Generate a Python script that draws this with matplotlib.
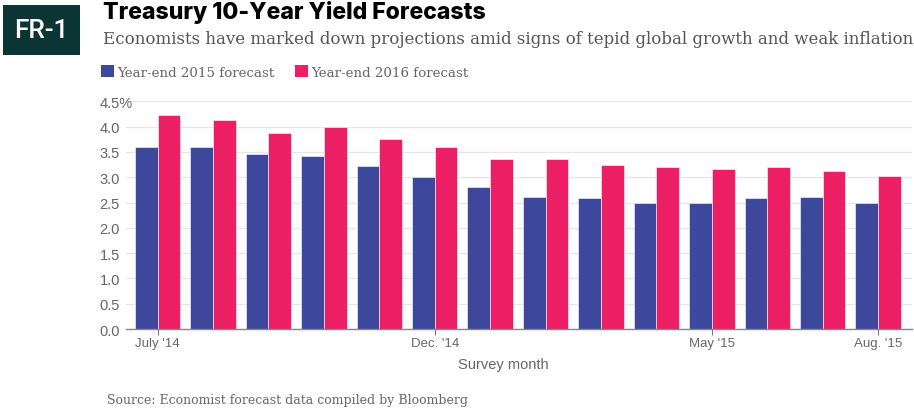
import matplotlib
matplotlib.use("Agg")
import matplotlib.pyplot as plt
from matplotlib.patches import Rectangle, Patch
import numpy as np

# Survey months (July 2014 - August 2015)
months = ["July '14", "Aug. '14", "Sep. '14", "Oct. '14", "Nov. '14", "Dec. '14", "Jan. '15",
          "Feb. '15", "Mar. '15", "Apr. '15", "May '15", "June '15", "July '15", "Aug. '15"]
shown_ticks = ["July '14", "Dec. '14", "May '15", "Aug. '15"]

# Median 10-year yield forecasts, percent
fc_2015 = [3.60, 3.60, 3.46, 3.41, 3.23, 3.00, 2.80, 2.61, 2.59, 2.49, 2.49, 2.58, 2.60, 2.50]
fc_2016 = [4.23, 4.14, 3.87, 3.99, 3.75, 3.60, 3.36, 3.36, 3.24, 3.21, 3.17, 3.20, 3.12, 3.03]

blue = "#3d479b"
pink = "#ec1e64"
grey_txt = "#666666"
serif = ["DejaVu Serif"]
narrow = ["Liberation Sans Narrow", "Liberation Sans", "DejaVu Sans"]

W, H = 914, 410
fig = plt.figure(figsize=(W / 100, H / 100), dpi=100)

# axes box in pixel coords
left, right, top, bottom = 126, 912, 102.3, 330
ax = fig.add_axes([left / W, 1 - bottom / H, (right - left) / W, (bottom - top) / H])

x = np.arange(len(months))
bw = 0.41
ax.bar(x - bw / 2, fc_2015, bw, color=blue, edgecolor="white", linewidth=0.4, zorder=3)
ax.bar(x + bw / 2, fc_2016, bw, color=pink, edgecolor="white", linewidth=0.4, zorder=3)

ax.set_xlim(-0.57, len(months) - 1 + 0.61)
ax.set_ylim(0, 4.5)

# y labels are left-aligned so the "%" on the top one hangs over the plot
yt = np.arange(0, 4.51, 0.5)
ax.set_yticks(yt)
ax.set_yticklabels([f"{v:.1f}" for v in yt[:-1]] + ["4.5%"])
ax.yaxis.grid(True, color="#e6e6e6", linewidth=0.9, zorder=0)
ax.tick_params(axis="y", length=0, pad=19, labelsize=10.5, labelcolor=grey_txt)
for lab in ax.get_yticklabels():
    lab.set_family(["Liberation Sans", "DejaVu Sans"])
    lab.set_horizontalalignment("left")

tick_pos = [months.index(m) for m in shown_ticks]
ax.set_xticks(tick_pos)
ax.set_xticklabels(shown_ticks)
ax.tick_params(axis="x", length=4, color="#777777", width=0.8, pad=2,
               labelsize=9.5, labelcolor=grey_txt)
for lab in ax.get_xticklabels():
    lab.set_family(narrow)

for s in ["top", "right", "left"]:
    ax.spines[s].set_visible(False)
ax.spines["bottom"].set_color("#888888")
ax.spines["bottom"].set_linewidth(1.0)
ax.spines["bottom"].set_zorder(4)

fig.text(503 / W, 1 - 365 / H, "Survey month", fontsize=10.5, color=grey_txt,
         ha="center", va="center", family=narrow)

# FR-1 badge
fig.patches.append(Rectangle((3 / W, 1 - 56 / H), 77 / W, 50 / H, transform=fig.transFigure,
                             facecolor="#0b3434", edgecolor="none"))
fig.text(41.5 / W, 1 - 31 / H, "FR-1", color="white", fontsize=19, weight="medium",
         ha="center", va="center", family=["Roboto", "DejaVu Sans"])

fig.text(103 / W, 1 - 13 / H, "Treasury 10-Year Yield Forecasts", fontsize=16.6,
         weight="heavy", color="black", ha="left", va="center",
         family=["Inter", "DejaVu Sans"])
fig.text(103 / W, 1 - 40 / H,
         "Economists have marked down projections amid signs of tepid global growth and weak inflation",
         fontsize=12, color="#555555", ha="left", va="center", family=serif)

handles = [Patch(facecolor=blue), Patch(facecolor=pink)]
fig.legend(handles, ["Year-end 2015 forecast", "Year-end 2016 forecast"],
           loc="center left", bbox_to_anchor=(89 / W, 1 - 73 / H), ncol=2,
           frameon=False, handlelength=1.0, handleheight=1.0, handletextpad=0.25,
           columnspacing=1.5, prop={"family": serif, "size": 9.6},
           labelcolor=grey_txt)

fig.text(107 / W, 1 - 401 / H, "Source: Economist forecast data compiled by Bloomberg",
         fontsize=9, color=grey_txt, ha="left", va="center", family=serif)

fig.savefig("out.png", dpi=100, facecolor="white")
